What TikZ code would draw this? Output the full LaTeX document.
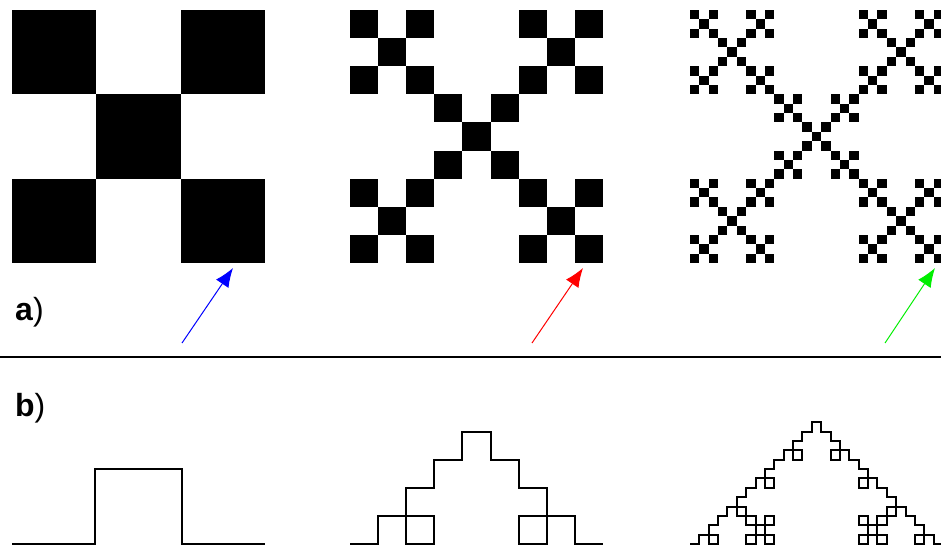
\documentclass[tikz,border=0pt]{standalone}
\usepackage{fontspec}
\setmainfont{Liberation Sans}
\usepackage{tikz}
\usetikzlibrary{arrows.meta,lindenmayersystems}
\definecolor{arrowblue}{HTML}{0000FF}
\definecolor{arrowred}{HTML}{FF0000}
\definecolor{arrowgreen}{HTML}{00EE00}
\pgfdeclarelindenmayersystem{quadkoch}{\rule{F -> F+F-F-F+F}}
\newcommand{\vlist}{0/0,2/0,1/1,0/2,2/2}
\tikzset{
  panellabel/.style={anchor=base west,inner sep=0pt,font=\fontsize{32}{32}\selectfont},
  pointer/.style={->,line width=1pt,>={Latex[length=19pt,width=15pt]}},
  curve/.style={line width=2pt,line join=miter}
}

\begin{document}
\begin{tikzpicture}[x=1pt,y=-1pt]
\useasboundingbox (0,0) rectangle (941,549);
\foreach \a/\b in \vlist
  \fill ({12+84.33*\a},{10+84.33*\b}) rectangle ++(84.33,84.33);
\foreach \a/\b in \vlist
  \foreach \c/\d in \vlist
    \fill ({350+28.11*(3*\a+\c)},{10+28.11*(3*\b+\d)}) rectangle ++(28.11,28.11);
\foreach \a/\b in \vlist
  \foreach \c/\d in \vlist
    \foreach \e/\f in \vlist
      \fill ({690+9.37*(9*\a+3*\c+\e)},{10+9.37*(9*\b+3*\d+\f)}) rectangle ++(9.37,9.37);
\node[panellabel] (la) at (15,320) {\textbf{a})};
\coordinate (b1) at (182,343);
\coordinate (t1) at (233,268);
\coordinate (b2) at (532,343);
\coordinate (t2) at (583,268);
\coordinate (b3) at (885,343);
\coordinate (t3) at (935,268);
\draw[pointer,arrowblue] (b1) -- (t1);
\draw[pointer,arrowred] (b2) -- (t2);
\draw[pointer,arrowgreen] (b3) -- (t3);
\coordinate (sl) at (0,357);
\coordinate (sr) at (941,357);
\draw[line width=2pt] (sl) -- (sr);
\node[panellabel] (lb) at (15,416) {\textbf{b})};
\draw[curve] (12,544) -| (95,469) -| (182,544) -- (265,544);
\begin{scope}[shift={(350,544)}]
\draw[curve,lindenmayer system={quadkoch,axiom=F,order=2,step=28.11pt,angle=90}]
  lindenmayer system;
\end{scope}
\begin{scope}[shift={(690,544)}]
\draw[curve,lindenmayer system={quadkoch,axiom=F,order=3,step=9.37pt,angle=90}]
  lindenmayer system;
\end{scope}
\end{tikzpicture}
\end{document}
